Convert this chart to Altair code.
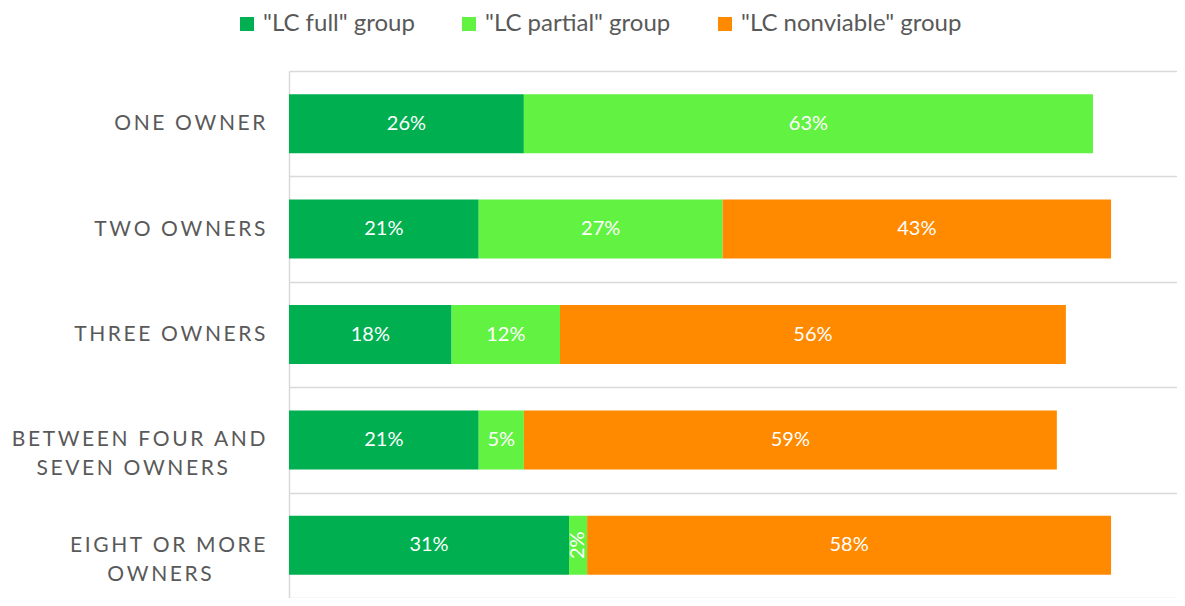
import altair as alt
import pandas as pd

# ---- data ----
categories = [
    "ONE OWNER",
    "TWO OWNERS",
    "THREE OWNERS",
    "BETWEEN FOUR AND|SEVEN OWNERS",
    "EIGHT OR MORE|OWNERS",
]
groups = ['"LC full" group', '"LC partial" group', '"LC nonviable" group']
full_pct = [26, 21, 18, 21, 31]
partial_pct = [63, 27, 12, 5, 2]
nonviable_pct = [None, 43, 56, 59, 58]
colors = ["#00B050", "#62F242", "#FF8A00"]

# ---- label styling (letter spacing, centring of second lines) ----
THIN = "\u2009"
NBSP = "\u00a0"
ZWSP = "\u200b"
line_pad = {"SEVEN OWNERS": 7, "OWNERS": 10}


def spaced(s):
    lines = s.split("|")
    out = []
    for ln in lines:
        t = THIN.join(ln)
        if len(lines) > 1 and ln in line_pad:
            t = t + NBSP * line_pad[ln] + ZWSP
        out.append(t)
    return "|".join(out)


rows = []
series = [full_pct, partial_pct, nonviable_pct]
for i, cat in enumerate(categories):
    for g, (grp, vals) in enumerate(zip(groups, series)):
        v = vals[i]
        if v is None:
            continue
        rows.append({"cat": spaced(cat), "group": grp, "order": g, "value": v})
df = pd.DataFrame(rows)
cat_order = [spaced(c) for c in categories]

FONT = "Lato"
GREY = "#595959"

base = alt.Chart(df).transform_stack(
    stack="value",
    groupby=["cat"],
    as_=["x0", "x1"],
    sort=[alt.SortField("order", order="ascending")],
).transform_calculate(
    mid="(datum.x0 + datum.x1) / 2",
    txt="datum.value + '%'",
)

xscale = alt.Scale(domain=[0, 98.3], nice=False, zero=True)
yscale = alt.Scale(paddingInner=0, paddingOuter=0)

y_axis = alt.Axis(
    title=None,
    domain=True,
    domainColor="#D9D9D9",
    domainWidth=1.5,
    grid=True,
    gridColor="#D9D9D9",
    gridWidth=1.5,
    tickBand="extent",
    ticks=False,
    tickSize=0,
    labelFont=FONT,
    labelFontSize=21,
    labelColor=GREY,
    labelExpr="split(datum.label, '|')",
    labelLineHeight=29,
    labelLimit=500,
    labelBaseline="middle",
    labelAlign="right",
    labelPadding=24,
)

legend = alt.Legend(
    title=None,
    orient="none",
    direction="horizontal",
    legendX=-54,
    legendY=-59,
    padding=0,
    symbolType="square",
    symbolSize=196,
    symbolStrokeWidth=0,
    labelFont=FONT,
    labelFontSize=24,
    labelColor=GREY,
    labelOffset=4,
    labelLimit=400,
    columnPadding=42,
)

bars = base.mark_bar(height={"band": 0.56}).encode(
    x=alt.X("x0:Q", scale=xscale, axis=None),
    x2="x1:Q",
    y=alt.Y("cat:N", sort=cat_order, scale=yscale, axis=y_axis),
    color=alt.Color(
        "group:N",
        scale=alt.Scale(domain=groups, range=colors),
        legend=legend,
    ),
)

labels = base.transform_filter("datum.value >= 4").mark_text(
    color="white", font=FONT, fontSize=20, baseline="middle", align="center"
).encode(
    x=alt.X("mid:Q", scale=xscale, axis=None),
    y=alt.Y("cat:N", sort=cat_order, scale=yscale, axis=y_axis),
    text="txt:N",
)

labels_rot = base.transform_filter("datum.value < 4").mark_text(
    color="white", font=FONT, fontSize=20, baseline="middle", align="center", angle=270
).encode(
    x=alt.X("mid:Q", scale=xscale, axis=None),
    y=alt.Y("cat:N", sort=cat_order, scale=yscale, axis=y_axis),
    text="txt:N",
)

chart = (
    alt.layer(bars, labels, labels_rot)
    .properties(
        width=888,
        height=527,
        autosize=alt.AutoSizeParams(type="none"),
        padding={"left": 281, "top": 63, "right": 0, "bottom": 0},
        background="white",
    )
    .configure_view(stroke=None)
)

chart.save("out.html", embed_options={"renderer": "svg", "actions": False})
